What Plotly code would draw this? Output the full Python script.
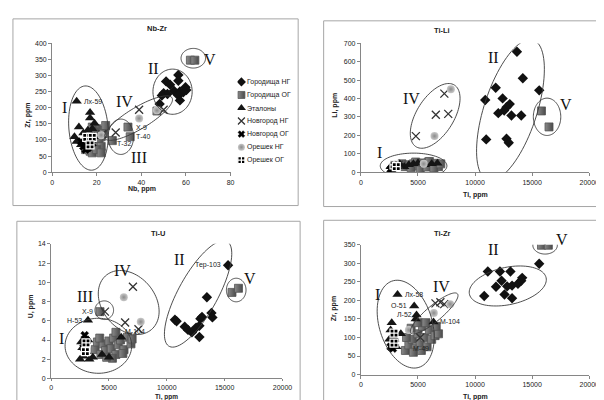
import numpy as np
import plotly.graph_objects as go

W, H = 604, 400

# ---------------- DATA ----------------
series_names = ["Городища НГ", "Городища ОГ", "Эталоны", "Новгород НГ",
                "Новгород ОГ", "Орешек НГ", "Орешек ОГ"]

# Panel 1: Nb-Zr
nbzr_gnd_x = [56.6, 56.6, 51.1, 52.9, 59.8, 60.2, 54.6, 57.3, 58.8, 50.0, 51.7, 49.2, 56.6, 57.3, 48.2]
nbzr_gnd_y = [302, 284, 282, 272, 264, 255, 253, 251, 248, 245, 243, 238, 238, 223, 212]
nbzr_gog_x = [15, 17, 18, 19, 20, 21, 22, 23, 24, 16, 18, 20, 22, 17, 19, 21, 23, 20, 22, 18, 27, 34, 35, 47, 62, 64]
nbzr_gog_y = [70, 65, 60, 85, 75, 95, 110, 130, 145, 90, 115, 135, 80, 100, 125, 105, 120, 70, 60, 140, 98, 140, 110, 190, 348, 348]
nbzr_et_x = [11, 17, 17, 19, 12, 16, 14, 10, 11, 13, 15, 18, 19]
nbzr_et_y = [220, 185, 168, 152, 140, 130, 122, 110, 95, 85, 105, 135, 110]
nbzr_nng_x = [39, 28.5, 50, 22.5]
nbzr_nng_y = [194, 123, 194, 118]
nbzr_nog_x = [14, 16, 18, 13, 15]
nbzr_nog_y = [80, 75, 90, 95, 70]
nbzr_ong_x = [39, 47, 22]
nbzr_ong_y = [167, 192, 115]
nbzr_oog_x = [15.5, 18, 17]
nbzr_oog_y = [108, 108, 85]

# Panel 2: Ti-Li
tili_gnd_x = [13666, 14182, 11808, 15617, 10890, 12411, 13038, 12754, 12548, 12033, 13183, 14043, 10975, 12754, 12951]
tili_gnd_y = [655, 511, 459, 445, 392, 401, 370, 353, 335, 321, 308, 308, 178, 182, 160]
tili_gog_x = [3800, 4200, 4600, 5000, 5300, 5600, 5900, 6200, 6500, 6800, 4400, 5200, 5800, 6400, 7000, 3600, 4800, 6000, 15817, 16476]
tili_gog_y = [30, 40, 45, 35, 50, 42, 55, 38, 48, 30, 25, 20, 28, 22, 45, 45, 55, 58, 333, 246]
tili_et_x = [2600, 3000, 3400, 3800, 4200, 4600, 5000, 5600, 6200, 6700, 2800]
tili_et_y = [30, 35, 45, 30, 40, 45, 50, 40, 45, 48, 20]
tili_nng_x = [7307, 6562, 7650, 4814, 3300]
tili_nng_y = [427, 312, 317, 196, 40]
tili_nog_x = [2800, 3000, 2600]
tili_nog_y = [20, 30, 15]
tili_ong_x = [7880, 6447, 5500]
tili_ong_y = [451, 196, 45]
tili_oog_x = [2900, 3100]
tili_oog_y = [40, 30]

# Panel 3: Ti-U
tiu_gnd_x = [10700, 10845, 11549, 11831, 12169, 12817, 12535, 12817, 12901, 13042, 13465, 13859, 13944, 15296]
tiu_gnd_y = [6.1, 5.95, 5.39, 5.05, 4.79, 4.32, 5.29, 5.49, 6.22, 6.39, 8.45, 6.82, 6.35, 11.77]
tiu_gog_x = [3800, 4000, 4300, 4500, 4700, 5000, 5200, 5400, 5600, 5800, 6000, 6300, 6600, 6900, 5300, 4200, 5600, 6200, 4800, 7000, 4225, 15634, 16197]
tiu_gog_y = [3.0, 3.8, 2.5, 3.6, 2.9, 3.9, 3.1, 4.2, 2.5, 3.5, 4.0, 3.0, 4.3, 3.6, 2.1, 4.2, 4.8, 2.6, 2.2, 4.1, 6.95, 8.95, 9.38]
tiu_et_x = [3183, 6056, 2500, 2800, 3000, 2700, 3300, 3600, 4400, 5000, 2600, 3200]
tiu_et_y = [6.05, 4.29, 2.0, 2.3, 2.8, 3.2, 2.0, 2.2, 2.5, 2.2, 3.8, 4.0]
tiu_nng_x = [7070, 6394, 7549, 4648]
tiu_nng_y = [9.54, 5.82, 5.12, 6.95]
tiu_nog_x = [2900, 3100, 2800]
tiu_nog_y = [4.5, 3.9, 3.2]
tiu_ong_x = [6282, 7746]
tiu_ong_y = [8.45, 5.89]
tiu_oog_x = [3012, 2958]
tiu_oog_y = [3.7, 2.8]

# Panel 4: Ti-Zr
tizr_gnd_x = [11117, 12178, 13095, 10802, 11834, 12321, 12579, 13238, 12808, 13238, 13754, 14040, 14126, 15616]
tizr_gnd_y = [278, 278, 278, 212, 237, 253, 216, 206, 238, 240, 245, 253, 261, 299]
tizr_gog_x = [3900, 4200, 4500, 4800, 5000, 5200, 5400, 5600, 5800, 6000, 6200, 6500, 6800, 4400, 5000, 4000, 5700, 6600, 4600, 5300, 15817, 16418]
tizr_gog_y = [65, 80, 95, 70, 110, 85, 130, 100, 75, 120, 95, 105, 110, 125, 140, 100, 140, 130, 60, 65, 349, 349]
tizr_et_x = [3209, 4670, 4871, 6361, 2700, 2600, 2900, 2500, 3100, 2800, 3500, 4800]
tizr_et_y = [216, 185, 161, 142, 140, 120, 100, 95, 75, 80, 110, 150]
tizr_nng_x = [6533, 6963, 7300, 5200]
tizr_nng_y = [192, 195, 190, 100]
tizr_nog_x = [2600, 2800, 3000]
tizr_nog_y = [75, 70, 85]
tizr_ong_x = [7822, 6390, 4200]
tizr_ong_y = [190, 166, 120]
tizr_oog_x = [2900, 2900]
tizr_oog_y = [112, 85]

# ---------------- STYLE ----------------
styles = [
    dict(symbol="diamond", size=8, color="#111111", line=dict(width=0)),
    dict(symbol="square", size=8, color="#8a8a8a", line=dict(color="#555555", width=0.8),
         gradient=dict(type="horizontal", color="#4a4a4a")),
    dict(symbol="triangle-up", size=9, color="#151515", line=dict(width=0)),
    dict(symbol="x-thin", size=8, color="#333333", line=dict(color="#333333", width=1.3)),
    dict(symbol="x", size=7, color="#000000", line=dict(color="#000000", width=0.5)),
    dict(symbol="circle", size=8, color="#c8c8c8", line=dict(width=0),
         gradient=dict(type="radial", color="#8a8a8a")),
    dict(symbol="square-cross", size=8, color="#000000", line=dict(color="#ffffff", width=1.2)),
]

panels = [
    dict(ax="", title="Nb-Zr", xr=[0, 80], yr=[0, 400], dx=20, dy=50, dom_px=(43, 225, 32, 163),
         data=[(nbzr_gnd_x, nbzr_gnd_y), (nbzr_gog_x, nbzr_gog_y), (nbzr_et_x, nbzr_et_y),
               (nbzr_nng_x, nbzr_nng_y), (nbzr_nog_x, nbzr_nog_y), (nbzr_ong_x, nbzr_ong_y),
               (nbzr_oog_x, nbzr_oog_y)]),
    dict(ax="2", title="Ti-Li", xr=[0, 20000], yr=[0, 700], dx=5000, dy=100, dom_px=(358, 591, 32, 163),
         data=[(tili_gnd_x, tili_gnd_y), (tili_gog_x, tili_gog_y), (tili_et_x, tili_et_y),
               (tili_nng_x, tili_nng_y), (tili_nog_x, tili_nog_y), (tili_ong_x, tili_ong_y),
               (tili_oog_x, tili_oog_y)]),
    dict(ax="3", title="Ti-U", xr=[0, 20000], yr=[0, 14], dx=5000, dy=2, dom_px=(42, 278, 236, 373),
         data=[(tiu_gnd_x, tiu_gnd_y), (tiu_gog_x, tiu_gog_y), (tiu_et_x, tiu_et_y),
               (tiu_nng_x, tiu_nng_y), (tiu_nog_x, tiu_nog_y), (tiu_ong_x, tiu_ong_y),
               (tiu_oog_x, tiu_oog_y)]),
    dict(ax="4", title="Ti-Zr", xr=[0, 20000], yr=[0, 350], dx=5000, dy=50, dom_px=(358, 591, 237, 369),
         data=[(tizr_gnd_x, tizr_gnd_y), (tizr_gog_x, tizr_gog_y), (tizr_et_x, tizr_et_y),
               (tizr_nng_x, tizr_nng_y), (tizr_nog_x, tizr_nog_y), (tizr_ong_x, tizr_ong_y),
               (tizr_oog_x, tizr_oog_y)]),
]

fig = go.Figure()
FONT = "Liberation Sans"

layout = dict(width=W, height=H, margin=dict(l=0, r=0, t=0, b=0),
              paper_bgcolor="white", plot_bgcolor="rgba(0,0,0,0)", showlegend=False)

for p in panels:
    x0, x1, y0, y1 = p["dom_px"]
    xd = [x0 / W, x1 / W]
    yd = [1 - y1 / H, 1 - y0 / H]
    axis_common = dict(showgrid=False, zeroline=False, showline=True, linecolor="#868686",
                       linewidth=1, ticks="outside", tickcolor="#868686",
                       tickformat="d",
                       tickfont=dict(family=FONT, size=7, color="#222"))
    layout["xaxis" + p["ax"]] = dict(domain=xd, range=p["xr"], dtick=p["dx"], tick0=0,
                                     ticklen=(2 if p["ax"] == "3" else 3),
                                     anchor="y" + p["ax"], **axis_common)
    layout["yaxis" + p["ax"]] = dict(domain=yd, range=p["yr"], dtick=p["dy"], tick0=0,
                                     ticklen=3, anchor="x" + p["ax"], **axis_common)
    for i, (xs, ys) in enumerate(p["data"]):
        fig.add_trace(go.Scatter(x=xs, y=ys, mode="markers", name=series_names[i],
                                 marker=styles[i], xaxis="x" + p["ax"], yaxis="y" + p["ax"]))

# ---------------- legend (own hidden axis, Excel-like compact spacing) ----------------
LG = (232, 300, 64.5, 157.5)
layout["xaxis5"] = dict(domain=[LG[0] / W, LG[1] / W], range=[0, 1], visible=False,
                        fixedrange=True, anchor="y5")
layout["yaxis5"] = dict(domain=[1 - LG[3] / H, 1 - LG[2] / H], range=[6.5, -0.5],
                        visible=False, fixedrange=True, anchor="x5")
fig.update_layout(**layout)

leg_pos = list(range(len(series_names)))
for i, name in enumerate(series_names):
    st = dict(styles[i])
    st["size"] = max(st["size"] - 1, 6)
    fig.add_trace(go.Scatter(x=[0.06], y=[leg_pos[i]], mode="markers", marker=st,
                             xaxis="x5", yaxis="y5", hoverinfo="skip", name=name))
    fig.add_annotation(text=name, x=0.11, y=leg_pos[i], xref="x5", yref="y5",
                       showarrow=False, xanchor="left", yanchor="middle",
                       font=dict(family=FONT, size=7, color="#222"))

# ---------------- frames ----------------
frames_px = [(3, 7, 294, 197), (320, 9, 612, 198), (7, 213, 296, 412), (320, 212, 612, 412)]
for (a, b, c, d) in frames_px:
    fig.add_shape(type="rect", xref="paper", yref="paper", x0=a / W, x1=c / W,
                  y0=1 - d / H, y1=1 - b / H, line=dict(color="#a6a6a6", width=1), layer="below")

# ---------------- ellipses (center in data units, semi-axes in px, angle deg) ----------------
ellipses = {
    "": [(16.3, 137, 43, 20, 95), (54, 250, 23, 20, 90), (30.8, 110, 18, 13, 90),
         (38.7, 168, 40, 11, 31), (63.3, 354, 12.5, 10, 0)],
    "2": [(4615, 34, 34, 13, 0), (13100, 338, 75, 27, 72), (6506, 306, 37, 19, 58),
          (16304, 301, 19, 14, 90)],
    "3": [(4083, 3.4, 34, 28, 0), (12704, 8.8, 61, 20, 61), (4591, 7.1, 9.5, 9.5, 0),
          (6704, 7.9, 36, 27, -50), (16000, 9.2, 12, 10, 90)],
    "4": [(3924, 136, 46, 27, -73), (12864, 239, 40, 19, 12), (6420, 165, 31, 8, 40),
          (16133, 349, 12.5, 9, 0)],
}
for p in panels:
    x0, x1, y0, y1 = p["dom_px"]
    kx = (x1 - x0) / (p["xr"][1] - p["xr"][0])
    ky = (y1 - y0) / (p["yr"][1] - p["yr"][0])
    for (cx, cy, a, b, ang) in ellipses[p["ax"]]:
        t = np.linspace(0, 2 * np.pi, 90)
        th = np.radians(ang)
        ex, ey = a * np.cos(t), b * np.sin(t)
        rx = ex * np.cos(th) - ey * np.sin(th)
        ry = ex * np.sin(th) + ey * np.cos(th)
        xs = cx + rx / kx
        ys = cy + ry / ky
        path = "M " + " L ".join(f"{x:.3f},{y:.5f}" for x, y in zip(xs, ys)) + " Z"
        fig.add_shape(type="path", path=path, xref="x" + p["ax"], yref="y" + p["ax"],
                      line=dict(color="#3a3a3a", width=0.9))

# ---------------- titles ----------------
def ann_px(text, px, py, size=7.5, bold=True, angle=0, family=FONT, color="#222", pad=1):
    fig.add_annotation(text=f"<b>{text}</b>" if bold else text, x=px / W, y=1 - py / H,
                       xref="paper", yref="paper", showarrow=False, textangle=angle,
                       font=dict(family=family, size=size, color=color), borderpad=pad,
                       xanchor="center", yanchor="middle")

ann_px("Nb-Zr", 150, 17, 7.5)
ann_px("Ti-Li", 441, 19, 7.5)
ann_px("Ti-U", 151, 225, 7.5)
ann_px("Ti-Zr", 441, 225, 7.5)
ann_px("Zr, ppm", 19, 105, 7, angle=-90)
ann_px("Nb, ppm", 135, 180, 7)
ann_px("Li, ppm", 332, 95, 7, angle=-90)
ann_px("Ti, ppm", 475, 186, 7)
ann_px("U, ppm", 21, 300, 7, angle=-90)
ann_px("Ti, ppm", 160, 392, 6.5, pad=0)
ann_px("Zr, ppm", 330, 302, 7, angle=-90)
ann_px("Ti, ppm", 475, 392, 7, pad=0)

# Roman numerals
romans = [("I", 56, 97), ("II", 146, 57), ("III", 132, 148), ("IV", 117, 91), ("V", 204, 48),
          ("I", 377, 143), ("II", 493, 46), ("IV", 410, 88), ("V", 567, 94),
          ("I", 53, 332), ("II", 173, 252), ("III", 77, 290), ("IV", 115, 263), ("V", 245, 271),
          ("I", 375, 288), ("II", 493, 242), ("IV", 440, 279), ("V", 563, 232)]
for txt, px, py in romans:
    ann_px(txt, px, py, 16, bold=False, family="Liberation Serif", color="#111")

# point labels (data coordinates)
labels = [
    ("", "Лх-59", 11, 220, "left", 5), ("", "Х-9", 35, 140, "left", 4),
    ("", "Т-40", 35, 110, "left", 4), ("", "Т-32", 27, 90, "left", 3),
    ("3", "Тер-103", 15296, 11.77, "right", -5), ("3", "Х-9", 4225, 6.95, "right", -5),
    ("3", "Н-53", 3183, 6.05, "right", -4), ("3", "М-104", 6056, 4.9, "left", 2),
    ("4", "Лх-58", 3209, 216, "left", 5), ("4", "О-51", 4670, 185, "right", -5),
    ("4", "Л-52", 4871, 161, "right", -3), ("4", "М-104", 6361, 142, "left", 4),
    ("4", "М-49", 4200, 70, "left", 2),
]
for axn, txt, x, y, xa, sh in labels:
    fig.add_annotation(text=txt, x=x, y=y, xref="x" + axn, yref="y" + axn, showarrow=False,
                       xanchor=xa, yanchor="middle", xshift=sh,
                       font=dict(family=FONT, size=7, color="#222"))

fig.write_html("out.html")
